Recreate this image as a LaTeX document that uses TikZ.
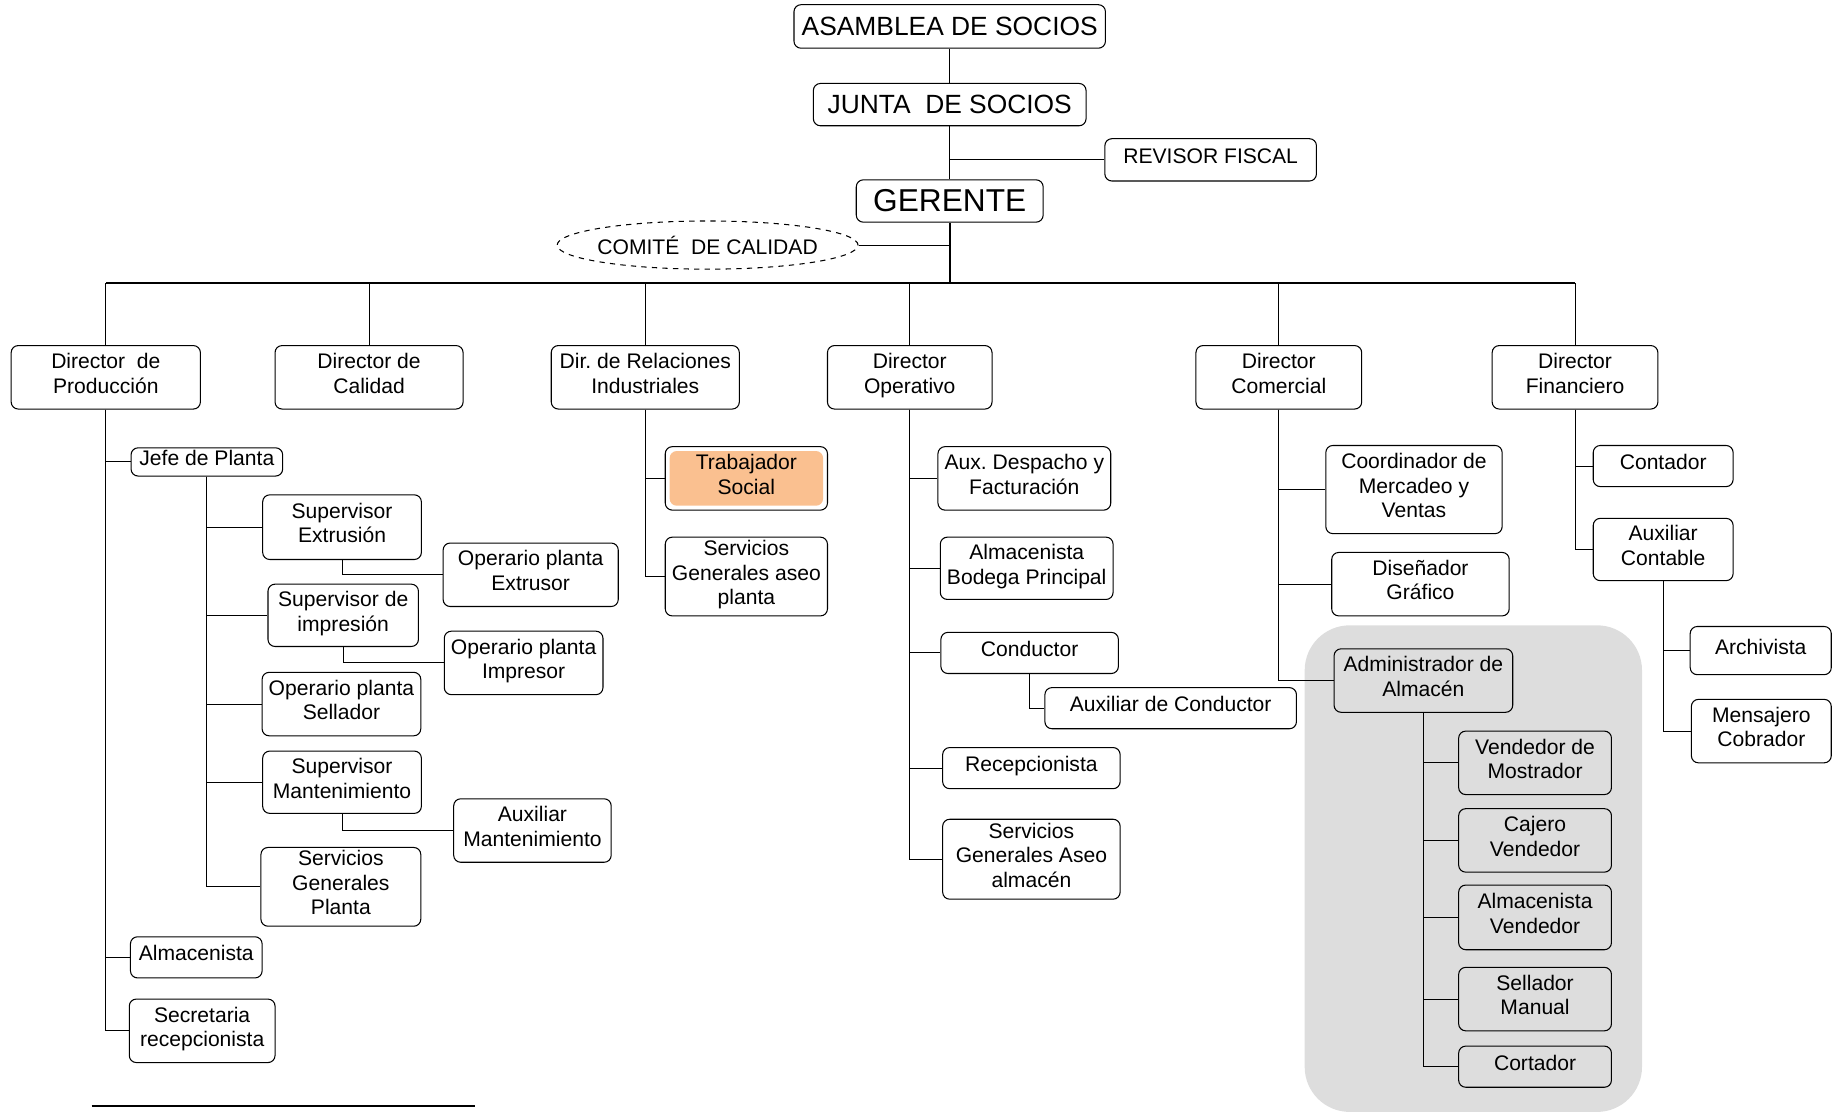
\documentclass[tikz,border=0pt]{standalone}
\usepackage{fontspec}
\setmainfont{Liberation Sans}
\usetikzlibrary{shapes.geometric}
\definecolor{trabOrange}{HTML}{FAC090}
\definecolor{almGray}{HTML}{DDDDDD}
\tikzset{
  frame/.style={draw, rounded corners=4pt, align=center, inner sep=1pt},
  box/.style={frame, execute at end node={\rule[-4.7pt]{0pt}{4.7pt}}},
  sz/.style 2 args={minimum width=#1*0.0235cm, minimum height=#2*0.0235cm},
  big/.style={font=\fontsize{15}{17}\selectfont},
  bus/.style={line width=1.3pt}}

\begin{document}
\begin{tikzpicture}[x=0.0235cm, y=-0.0235cm, line width=0.6pt,
  font=\fontsize{12}{14}\selectfont]
\useasboundingbox (0,0) rectangle (1568,946);
% zona del almacen
\fill[almGray, rounded corners=0.9cm] (1110,532) rectangle (1397,946);
% direccion
\node[frame, big, sz={265}{37}] (asamblea) at (808,22.5) {ASAMBLEA DE SOCIOS};
\node[frame, big, sz={232}{36}] (junta) at (808,89) {JUNTA \ DE SOCIOS};
\node[box, sz={180}{36}] (revisor) at (1030,136) {REVISOR FISCAL};
\node[frame, font=\fontsize{18}{20}\selectfont, sz={159}{36}] (gerente) at (808,171) {GERENTE};
\node[ellipse, draw, dashed, sz={256}{41}] (comite) at (602,208.5) {};
\node at (comite) {COMITÉ \ DE CALIDAD};
\draw (asamblea.south) -- (junta.north);
\draw (junta.south) -- (gerente.north);
\draw (revisor.west) -- (revisor.west -| gerente.north);
\draw (comite.east) -- (comite.east -| gerente.south);
% directores
\node[box, sz={161}{54}] (prod) at (90,321) {Director \ de\\Producción};
\node[box, sz={160}{54}] (cal) at (314,321) {Director de\\Calidad};
\node[box, sz={160}{54}] (rel) at (549,321) {Dir.\ de Relaciones\\Industriales};
\node[box, sz={140}{54}] (ope) at (774,321) {Director\\Operativo};
\node[box, sz={141}{54}] (com) at (1088,321) {Director\\Comercial};
\node[box, sz={141}{54}] (fin) at (1340,321) {Director\\Financiero};
\coordinate (bus) at (808,241);
\draw[bus] (gerente.south) -- (bus);
\draw[bus] (prod.north |- bus) -- (fin.north |- bus);
\foreach \d in {prod,cal,rel,ope,com,fin}
  \draw (\d.north) -- (\d.north |- bus);
% produccion
\node[box, sz={129}{24}] (jefe) at (176,393) {Jefe de Planta};
\node[box, sz={112}{35}] (almP) at (167,814.5) {Almacenista};
\node[box, sz={124}{54}] (secr) at (172,877) {Secretaria\\recepcionista};
\node[box, sz={135}{55}] (supExt) at (291,448.5) {Supervisor\\Extrusión};
\node[box, sz={149}{54}] (opExt) at (451.5,489) {Operario planta\\Extrusor};
\node[box, sz={128}{53}] (supImp) at (292,523.5) {Supervisor de\\impresión};
\node[box, sz={135}{54}] (opImp) at (445.5,564) {Operario planta\\Impresor};
\node[box, sz={135}{54}] (opSel) at (290.5,599) {Operario planta\\Sellador};
\node[box, sz={135}{53}] (supMan) at (291,665.5) {Supervisor\\Mantenimiento};
\node[box, sz={134}{54}] (auxMan) at (453,706.6) {Auxiliar\\Mantenimiento};
\node[box, sz={136}{67}] (servPl) at (290,754.5) {Servicios\\Generales\\Planta};
\foreach \n in {jefe,almP,secr}
  \draw (prod.south) |- (\n.west);
\foreach \n in {supExt,supImp,opSel,supMan,servPl}
  \draw (jefe.south) |- (\n.west);
\draw (supExt.south) |- (opExt.west);
\draw (supImp.south) |- (opImp.west);
\draw (supMan.south) |- (auxMan.west);
% relaciones industriales
\node[box, sz={138}{54}, path picture={\fill[trabOrange]
  ([xshift=2.5pt,yshift=-2.5pt]path picture bounding box.north west) rectangle
  ([xshift=-2.5pt,yshift=2.5pt]path picture bounding box.south east);}]
  (trab) at (635,407) {Trabajador\\Social};
\node[box, sz={138}{67}] (servAseo) at (635,490.5) {Servicios\\Generales aseo\\planta};
\foreach \n in {trab,servAseo}
  \draw (rel.south) |- (\n.west);
% operativo
\node[box, sz={147}{54}] (auxDesp) at (871.5,407) {Aux.\ Despacho y\\Facturación};
\node[box, sz={147}{53}] (almBod) at (873.5,483.5) {Almacenista\\Bodega Principal};
\node[box, sz={151}{35}] (cond) at (876,555.5) {Conductor};
\node[box, sz={214}{35}] (auxCond) at (996,602.5) {Auxiliar de Conductor};
\node[box, sz={151}{35}] (recep) at (877.5,653.5) {Recepcionista};
\node[box, sz={151}{68}] (servAlm) at (877.5,731) {Servicios\\Generales Aseo\\almacén};
\foreach \n in {auxDesp,almBod,cond,recep,servAlm}
  \draw (ope.south) |- (\n.west);
\draw (cond.south) |- (auxCond.west);
% comercial
\node[box, sz={150}{75}] (coord) at (1203,416.5) {Coordinador de\\Mercadeo y\\Ventas};
\node[box, sz={151}{54}] (dis) at (1208.5,497) {Diseñador\\Gráfico};
\node[box, sz={152}{54}] (admAlm) at (1211,579) {Administrador de\\Almacén};
\foreach \n in {coord,dis,admAlm}
  \draw (com.south) |- (\n.west);
\node[box, sz={130}{54}] (vend) at (1306,649) {Vendedor de\\Mostrador};
\node[box, sz={130}{54}] (caj) at (1306,715) {Cajero\\Vendedor};
\node[box, sz={130}{55}] (almV) at (1306,780.5) {Almacenista\\Vendedor};
\node[box, sz={130}{54}] (sell) at (1306,850) {Sellador\\Manual};
\node[box, sz={130}{35}] (cort) at (1306,907.5) {Cortador};
\foreach \n in {vend,caj,almV,sell,cort}
  \draw (admAlm.south) |- (\n.west);
% financiero
\node[box, sz={119}{35}] (cont) at (1415,396.5) {Contador};
\node[box, sz={119}{53}] (auxCont) at (1415,467.5) {Auxiliar\\Contable};
\node[box, sz={120}{41}] (arch) at (1498,553.5) {Archivista};
\node[box, sz={119}{54}] (mens) at (1498.5,622) {Mensajero\\Cobrador};
\foreach \n in {cont,auxCont}
  \draw (fin.south) |- (\n.west);
\foreach \n in {arch,mens}
  \draw (auxCont.south) |- (\n.west);
% linea de nota
\draw[line width=1pt] (78,941) -- (404,941);
\end{tikzpicture}
\end{document}
